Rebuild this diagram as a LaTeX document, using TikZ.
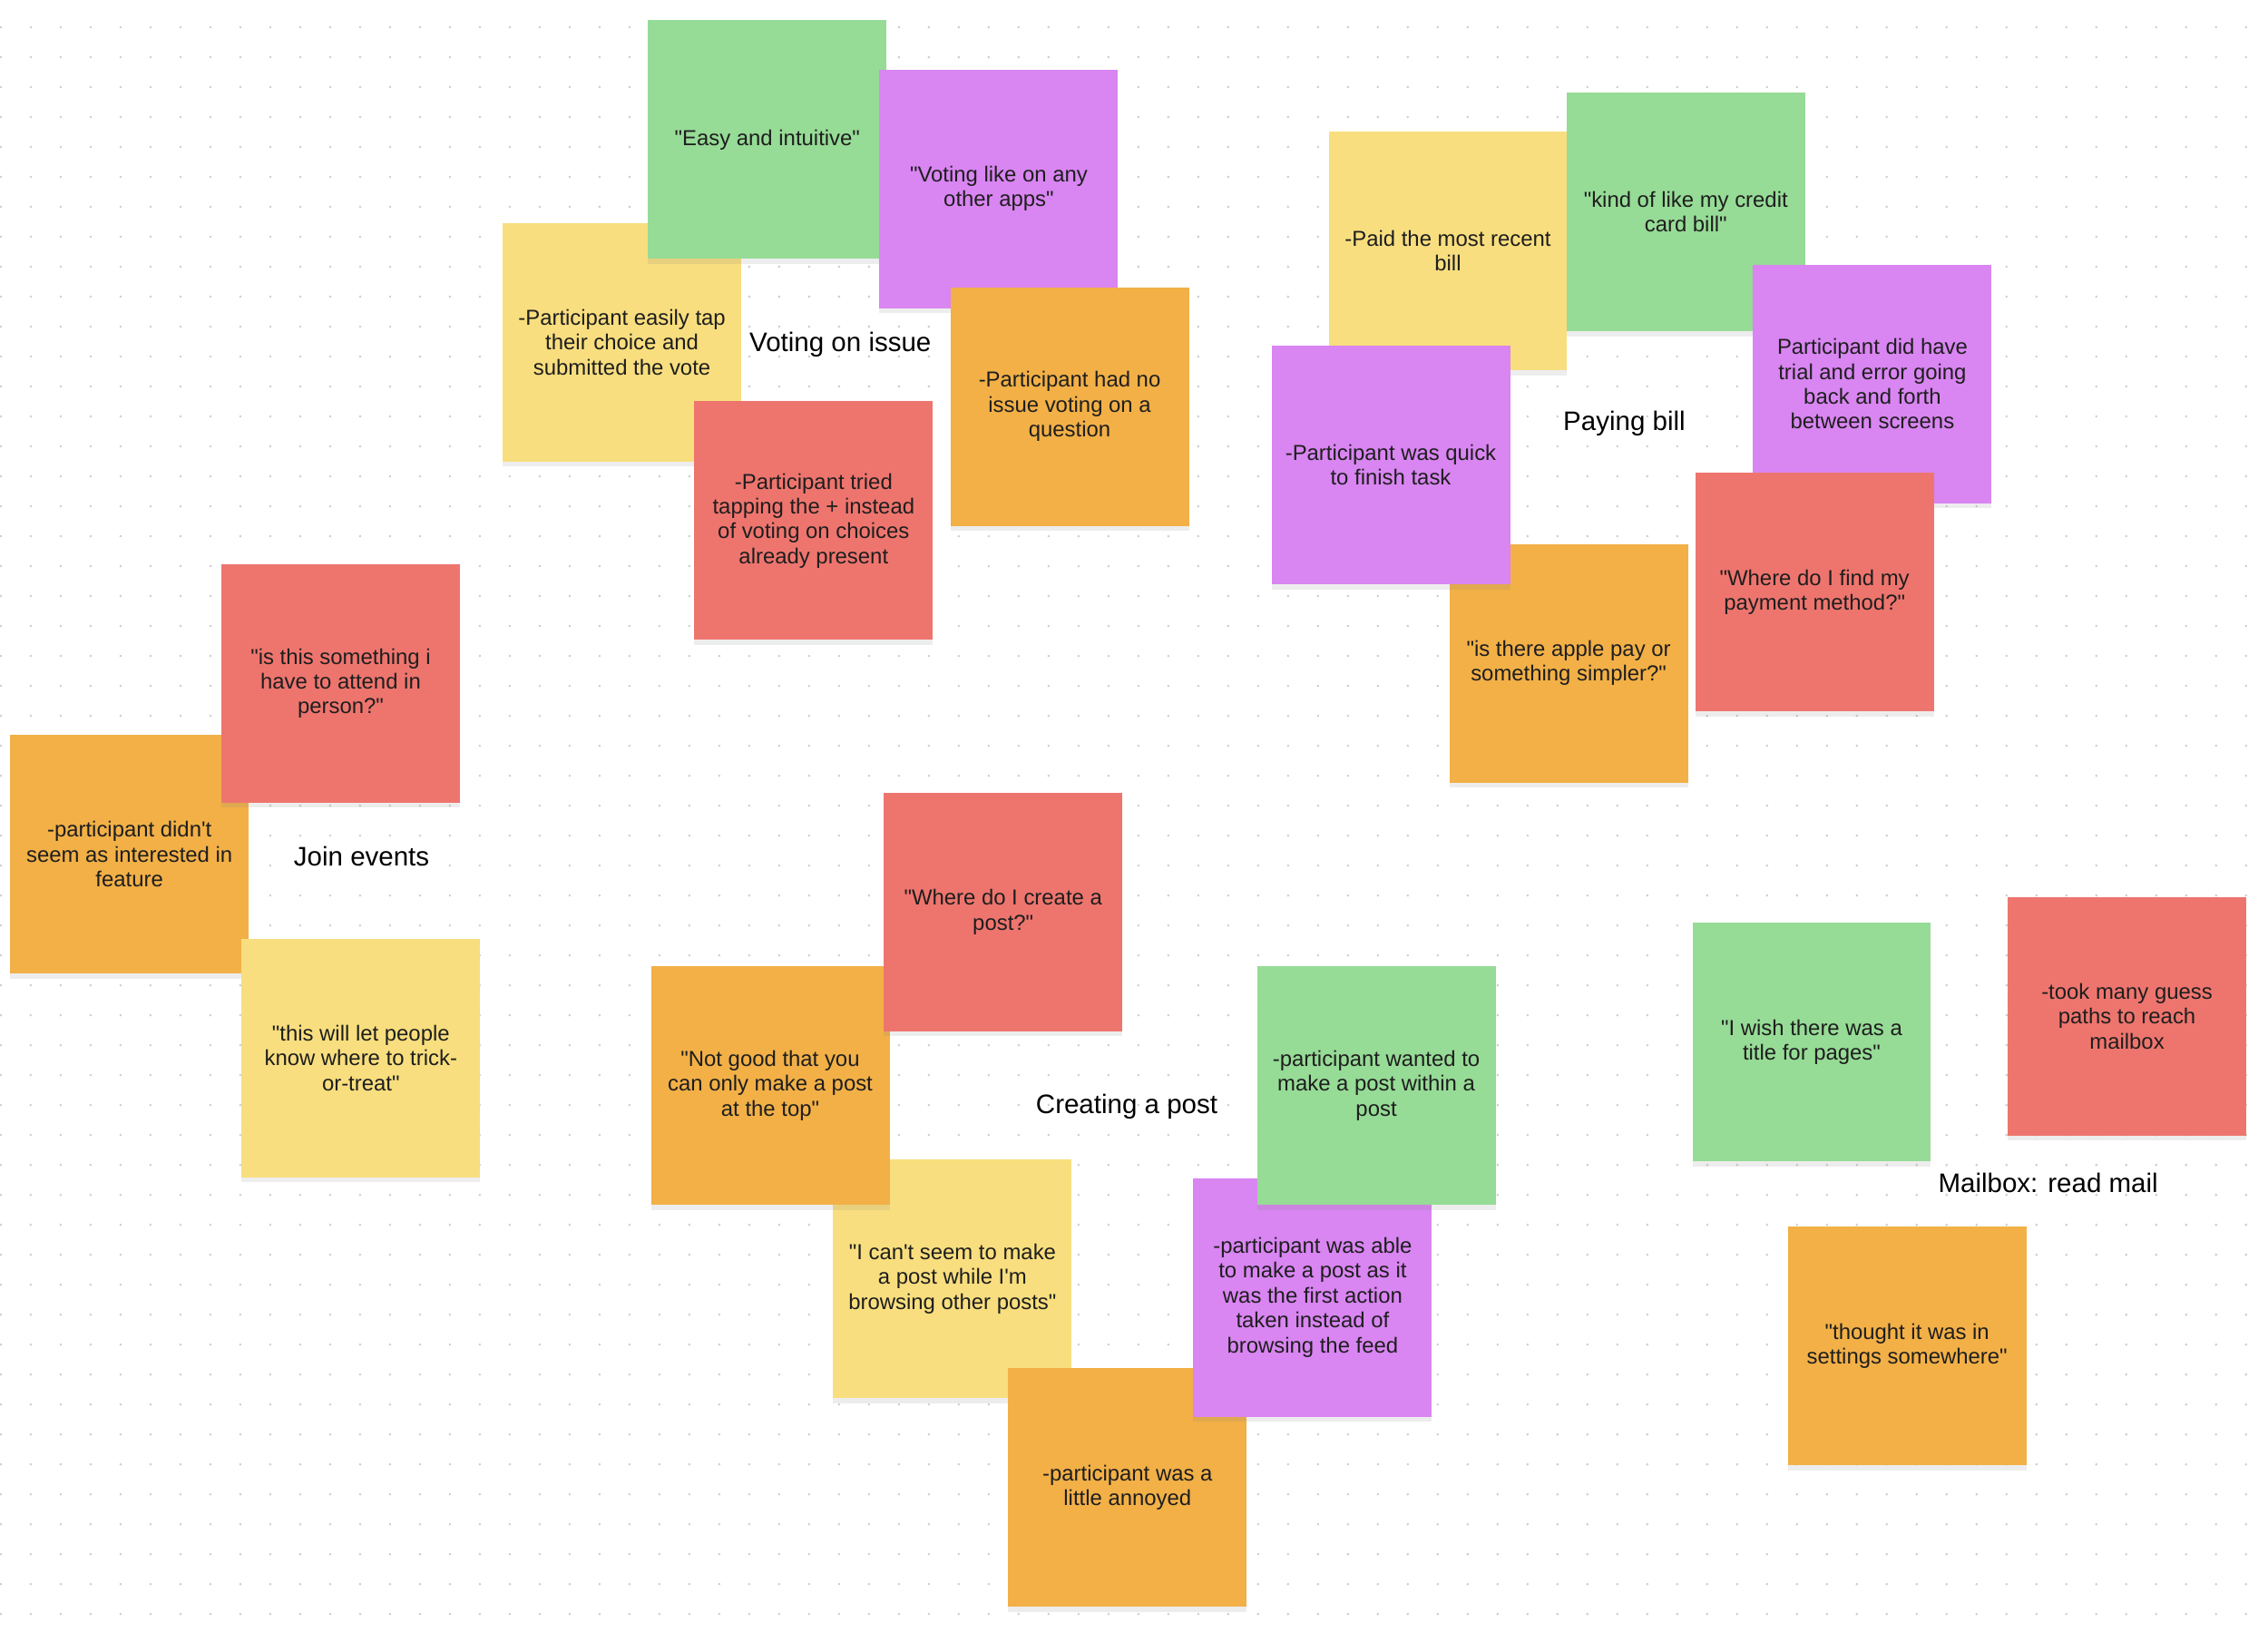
\documentclass[tikz,border=0pt]{standalone}
\usepackage{fontspec}
\setmainfont{Liberation Sans}
\usetikzlibrary{shadows}
\definecolor{notegreen}{RGB}{150,219,150}
\definecolor{notepurple}{RGB}{217,133,242}
\definecolor{noteyellow}{RGB}{248,222,126}
\definecolor{noteorange}{RGB}{242,176,71}
\definecolor{notered}{RGB}{238,117,110}
\definecolor{notetext}{RGB}{30,30,30}
\definecolor{griddot}{RGB}{205,205,205}
\newcommand{\qt}{\textquotedbl}
\newcommand{\ap}{\textquotesingle}
\tikzset{
  note/.style={rectangle,minimum width=2.63cm,minimum height=2.63cm,inner sep=0pt,align=center,
    font=\fontsize{6.8}{7.8}\selectfont,text=notetext,
    drop shadow={shadow xshift=0pt,shadow yshift=-1.6pt,opacity=0.14}},
  gnote/.style={note,fill=notegreen},
  pnote/.style={note,fill=notepurple},
  ynote/.style={note,fill=noteyellow},
  onote/.style={note,fill=noteorange},
  rnote/.style={note,fill=notered},
  grouplabel/.style={font=\fontsize{8.4}{10}\selectfont,text=black},
  dotgrid/.style={griddot,line width=0.8pt,line cap=round,dash pattern=on 0pt off 0.33cm}
}

\begin{document}
\begin{tikzpicture}[x=0.015944cm,y=-0.015944cm]
  % Board
  \useasboundingbox (0,0) rectangle (1568,1128);
  \fill[white] (0,0) rectangle (1568,1128);
  \foreach \r in {0,...,53}
    \draw[dotgrid] (0.6,{18.8+20.7*\r}) -- (1568,{18.8+20.7*\r});

  % Voting on issue
  \node[ynote] (vyellow) at (430,236.5) {-Participant easily tap\\their choice and\\submitted the vote};
  \node[gnote] (vgreen) at (530.5,96.5) {\qt Easy and intuitive\qt};
  \node[pnote] (vpurple) at (690.5,130.5) {\qt Voting like on any\\other apps\qt};
  \node[onote] (vorange) at (739.5,281) {-Participant had no\\issue voting on a\\question};
  \node[rnote] (vred) at (562.5,360) {-Participant tried\\tapping the + instead\\of voting on choices\\already present};
  \node[grouplabel] (vlabel) at (581,238) {Voting on issue};

  % Paying bill
  \node[ynote] (pyellow) at (1001,173.5) {-Paid the most recent\\bill};
  \node[gnote] (pgreen) at (1165.5,146.5) {\qt kind of like my credit\\card bill\qt};
  \node[pnote] (ppurpler) at (1294.5,265.5) {Participant did have\\trial and error going\\back and forth\\between screens};
  \node[rnote] (pred) at (1254.5,409.5) {\qt Where do I find my\\payment method?\qt};
  \node[onote] (porange) at (1084.5,458.5) {\qt is there apple pay or\\something simpler?\qt};
  \node[pnote] (ppurplel) at (961.5,321.5) {-Participant was quick\\to finish task};
  \node[grouplabel] (plabel) at (1123,293) {Paying bill};

  % Join events
  \node[onote] (jorange) at (89.5,590.5) {-participant didn\ap t\\seem as interested in\\feature};
  \node[rnote] (jred) at (235.5,472.5) {\qt is this something i\\have to attend in\\person?\qt};
  \node[ynote] (jyellow) at (249.5,731.5) {\qt this will let people\\know where to trick-\\or-treat\qt};
  \node[grouplabel] (jlabel) at (250,592) {Join events};

  % Creating a post
  \node[ynote] (cyellow) at (658.5,884) {\qt I can\ap t seem to make\\a post while I\ap m\\browsing other posts\qt};
  \node[onote] (corangel) at (532.5,750.5) {\qt Not good that you\\can only make a post\\at the top\qt};
  \node[rnote] (cred) at (693.5,630.5) {\qt Where do I create a\\post?\qt};
  \node[onote] (corangeb) at (779.5,1028.5) {-participant was a\\little annoyed};
  \node[pnote] (cpurple) at (907.5,897) {-participant was able\\to make a post as it\\was the first action\\taken instead of\\browsing the feed};
  \node[gnote] (cgreen) at (951.5,750.5) {-participant wanted to\\make a post within a\\post};
  \node[grouplabel] (clabel) at (779,765) {Creating a post};

  % Mailbox: read mail
  \node[gnote] (mgreen) at (1252.5,720.5) {\qt I wish there was a\\title for pages\qt};
  \node[rnote] (mred) at (1470.5,702.5) {-took many guess\\paths to reach\\mailbox};
  \node[onote] (morange) at (1318.5,930.5) {\qt thought it was in\\settings somewhere\qt};
  \node[grouplabel] (mlabel) at (1416,818) {Mailbox: read mail};
\end{tikzpicture}
\end{document}
